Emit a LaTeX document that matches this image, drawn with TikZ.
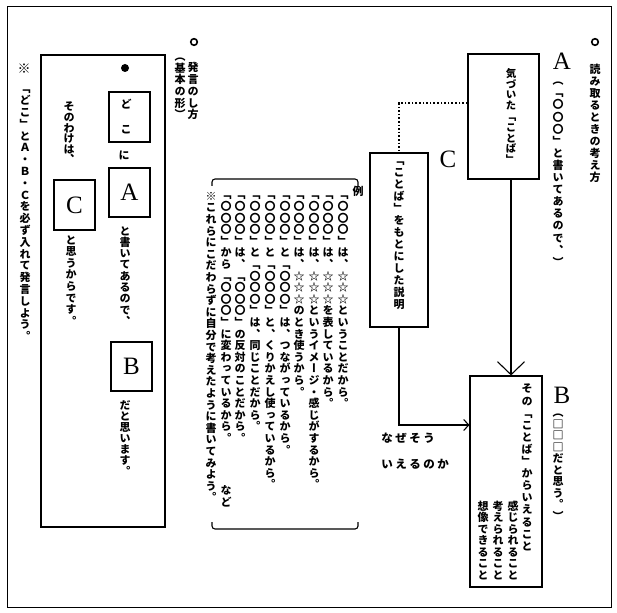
\documentclass[tikz,border=0pt]{standalone}
\usepackage{fontspec}
\usetikzlibrary{arrows.meta}
\newfontfamily\jpv[RawFeature={+vert}]{Noto Sans CJK JP}
\newfontfamily\jph{Noto Sans CJK JP}
\newfontfamily\lat{Liberation Serif}
\ExplSyntaxOn
\NewDocumentCommand\vt{O{11.6}m}{
  \vbox{\baselineskip=#1pt\lineskiplimit=-100pt\lineskip=0pt
    \tl_map_inline:nn{#2}{\hbox_to_wd:nn{1em}{\hss##1\hss}}}}
\NewDocumentCommand\hsp{O{14}m}{
  \tl_map_inline:nn{#2}{\hbox_to_wd:nn{#1pt}{\hss##1\hss}}}
\ExplSyntaxOff
\begin{document}
\begin{tikzpicture}[x=1pt,y=-1pt,
  box/.style={draw,line width=1.1pt,inner sep=0},
  vcol/.style={inner sep=0,anchor=north,font=\jpv\bfseries\fontsize{11}{12}\selectfont},
  vsmall/.style={vcol,font=\jpv\bfseries\fontsize{10.5}{12}\selectfont},
  big/.style={inner sep=0,font=\lat\fontsize{25}{25}\selectfont},
  conn/.style={line width=1.1pt},
  hcol/.style={inner sep=0,anchor=west,font=\jph\bfseries\fontsize{11.5}{12}\selectfont}]
\useasboundingbox (0,0) rectangle (617,612);
\fill[white] (0,0) rectangle (617,612);
\draw[line width=1pt] (7,7) rectangle (611,607);

% ---------- right part ----------
\draw[line width=1.6pt] (595,42) circle[radius=3.3];
\node[vcol] (t1) at (595,64) {\vt[12]{読み取るときの考え方}};
\node[big] (lA) at (562,61) {A};
\node[vcol] (t2) at (558,82) {\vt[12.1]{（「〇〇〇」と書いてあるので、）}};
\node[box,minimum width=71pt,minimum height=125pt] (bA) at (503.5,116.5) {};
\node[vsmall] (tA) at (511,68) {\vt[10.8]{気づいた「ことば」}};
\node[box,minimum width=58pt,minimum height=174pt] (bC) at (399,240) {};
\node[vcol] (tC) at (399,162) {\vt[12]{「ことば」をもとにした説明}};
\node[big] (lC) at (448,159) {C};
\node[box,minimum width=72pt,minimum height=211pt] (bB) at (506,481.5) {};
\node[big] (lB) at (562,395) {B};
\node[vcol] (tB1) at (558,414) {\vt[11.5]{（□□□だと思う。）}};
\node[vcol] (tB2) at (527,384) {\vt[12.1]{その「ことば」からいえること}};
\node[vcol,anchor=south] (tB3) at (513,580) {\vt[11.5]{感じられること}};
\node[vcol,anchor=south] (tB4) at (498,580) {\vt[11.5]{考えられること}};
\node[vcol,anchor=south] (tB5) at (483,580) {\vt[11.5]{想像できること}};

\coordinate (ax) at (511,0);
\draw[conn,-{Straight Barb[length=13pt,width=27pt,line width=1.1pt]}] (bA.south -| ax) -- (bB.north -| ax);
\coordinate (dc) at (399,103);
\draw[line width=1.6pt,dash pattern=on 1.6pt off 2pt] (bA.west |- dc) -- (dc) -- (bC.north);
\coordinate (wc) at (399,425);
\draw[conn,-{Straight Barb[length=5pt,width=11pt]}] (bC.south) -- (wc) -- (bB.west |- wc);
\node[hcol] (why1) at (380,438) {\hsp{なぜそう}};
\node[hcol] (why2) at (380,464) {\hsp{いえるのか}};

% ---------- middle part ----------
\draw[conn,rounded corners=3pt] (212,186) -- (212,179) -- (358,179) -- (358,186);
\draw[conn,rounded corners=3pt] (212,522) -- (212,529) -- (358,529) -- (358,522);
\node[vcol] (rei) at (358,186) {\vt{例}};
\node[vcol] (e1) at (343,196) {\vt{「〇〇〇」は、☆☆☆ということだから。}};
\node[vcol] (e2) at (328,196) {\vt{「〇〇〇」は、☆☆☆を表しているから。}};
\node[vcol] (e3) at (314,196) {\vt{「〇〇〇」は、☆☆☆というイメージ・感じがするから。}};
\node[vcol] (e4) at (299,196) {\vt{「〇〇〇」は、☆☆☆のとき使うから。}};
\node[vcol] (e5) at (285,196) {\vt{「〇〇〇」と「〇〇〇」は、つながっているから。}};
\node[vcol] (e6) at (270,196) {\vt{「〇〇〇」と「〇〇〇」と、くりかえし使っているから。}};
\node[vcol] (e7) at (255,196) {\vt{「〇〇〇」と「〇〇〇」は、同じことだから。}};
\node[vcol] (e8) at (240,196) {\vt{「〇〇〇」は、「〇〇〇」の反対のことだから。}};
\node[vcol] (e9) at (226,196) {\vt{「〇〇〇」から「〇〇〇」に変わっているから。}};
\node[vcol,anchor=south] (nado) at (226,507) {\vt{など}};
\node[vcol] (e10) at (211,192) {\vt{※これらにこだわらずに自分で考えたように書いてみよう。}};

% ---------- left part ----------
\draw[line width=1.6pt] (194,42) circle[radius=3.3];
\node[vcol] (s1) at (193,62) {\vt[11.8]{発言のし方}};
\node[vcol] (s2) at (180,58) {\vt[11.6]{（基本の形）}};
\node[box,minimum width=124pt,minimum height=472pt] (bL) at (103,291) {};
\fill (125,68) circle[radius=4];
\node[box,minimum width=41pt,minimum height=50pt] (bD) at (129.5,117) {};
\node[vcol,anchor=center] (d1) at (126,104) {ど};
\node[vcol,anchor=center] (d2) at (126,130) {こ};
\node[vcol,anchor=center] (ni) at (124,155) {に};
\node[box,big,minimum width=41pt,minimum height=49pt] (bLA) at (129.5,192.5) {A};
\node[vcol] (s3) at (125,226) {\vt[11.3]{と書いてあるので、}};
\node[box,big,minimum width=41pt,minimum height=49pt] (bLB) at (131.5,366.5) {B};
\node[vcol] (s4) at (125,400) {\vt[11]{だと思います。}};
\node[vcol] (s5) at (69,102) {\vt[10.6]{そのわけは、}};
\node[box,big,minimum width=41pt,minimum height=50pt] (bLC) at (74.5,205) {C};
\node[vcol] (s6) at (71,235) {\vt[11.6]{と思うからです。}};
\node[vcol,anchor=center,font=\jpv\bfseries\fontsize{13}{14}\selectfont] (kome) at (24,69) {※};
\node[vcol] (s7) at (25,90) {\vt[11.8]{「どこ」とＡ・Ｂ・Ｃを必ず入れて発言しよう。}};
\end{tikzpicture}
\end{document}
